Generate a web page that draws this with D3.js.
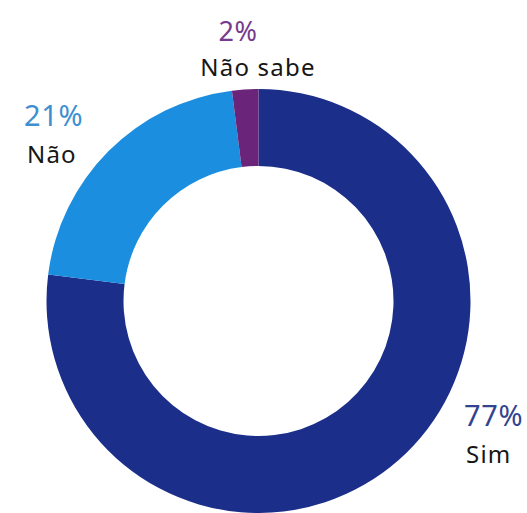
<!DOCTYPE html>
<html>
<head>
<meta charset="utf-8">
<script src="https://cdn.jsdelivr.net/npm/d3@7/dist/d3.min.js"></script>
<style>
  html, body { margin: 0; padding: 0; background: #ffffff; }
  svg { display: block; }
  text { font-family: "Noto Sans", "Open Sans", sans-serif; }
</style>
</head>
<body>
<svg id="chart" width="527" height="513"></svg>
<script>
// Survey answers, in drawing order clockwise from 12 o'clock
const categories = ["Sim", "Não", "Não sabe"];
const values = [77, 21, 2];
const percentLabels = ["77%", "21%", "2%"];

const sliceColors = ["#1b2e8a", "#1b8ee0", "#6a2479"];
const percentColors = ["#34438e", "#3e8fd2", "#773a8d"];

const cx = 258.5, cy = 301;
const outerR = 212, innerR = 135;

const svg = d3.select("#chart");
const g = svg.append("g").attr("transform", `translate(${cx},${cy})`);

const pie = d3.pie().sort(null).value(d => d.value);
const arc = d3.arc().innerRadius(innerR).outerRadius(outerR);

const data = categories.map((c, i) => ({ name: c, value: values[i], pct: percentLabels[i], i }));
const arcs = pie(data);

g.selectAll("path.slice")
  .data(arcs)
  .join("path")
  .attr("class", "slice")
  .attr("d", arc)
  .attr("fill", d => sliceColors[d.data.i]);

// Label placement per slice: percent baseline position, anchor, name offset
const labelLayout = [
  { x: 464, y: 426, anchor: "start", dx: 2 },   // Sim
  { x: 24,  y: 126, anchor: "start", dx: 3 },   // Não
  { x: 238, y: 41,  anchor: "middle", dx: 20 }  // Não sabe
];

const labels = svg.selectAll("g.lbl")
  .data(arcs)
  .join("g")
  .attr("class", "lbl")
  .attr("transform", d => {
    const p = labelLayout[d.data.i];
    return `translate(${p.x},${p.y})`;
  });

labels.append("text")
  .attr("text-anchor", d => labelLayout[d.data.i].anchor)
  .attr("font-size", d => d.data.i === 2 ? 27 : 29)
  .attr("letter-spacing", 0.6)
  .attr("fill", d => percentColors[d.data.i])
  .text(d => d.data.pct);

labels.append("text")
  .attr("text-anchor", d => labelLayout[d.data.i].anchor)
  .attr("x", d => labelLayout[d.data.i].dx)
  .attr("y", d => d.data.i === 2 ? 35 : 37)
  .attr("font-size", 24)
  .attr("letter-spacing", 1.2)
  .attr("fill", "#161616")
  .text(d => d.data.name);
</script>
</body>
</html>
